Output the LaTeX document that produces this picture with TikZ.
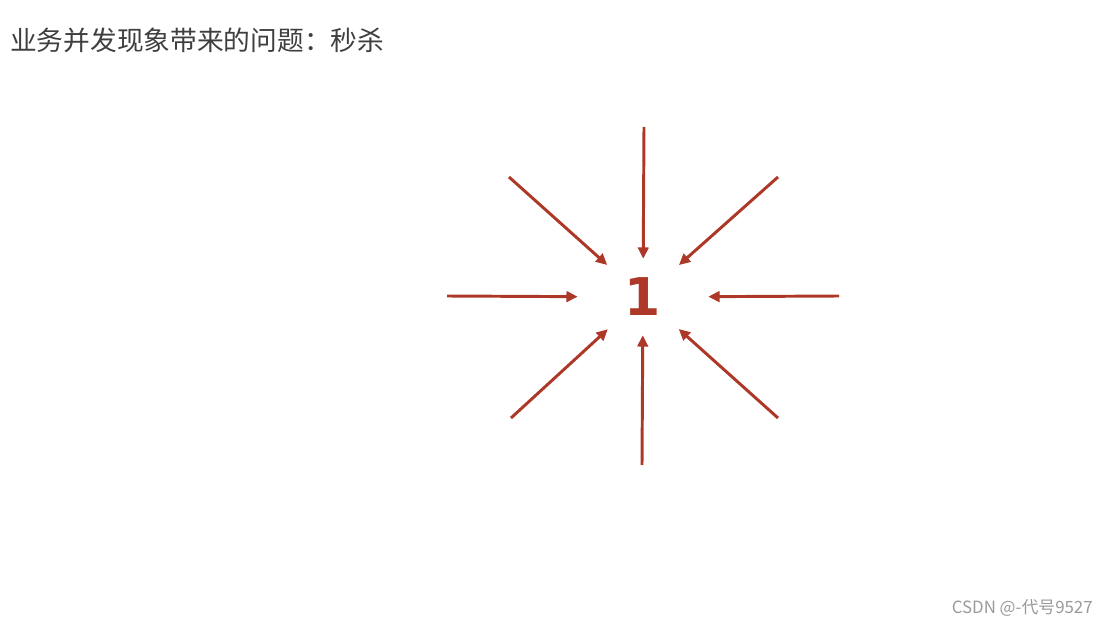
\documentclass[tikz,border=0pt]{standalone}
\usepackage{fontspec}
\usepackage{xcolor}
\usetikzlibrary{shapes.geometric,arrows.meta}
\newfontfamily\cjk{Noto Sans CJK SC}
\newfontfamily\numfont{DejaVu Sans}
\definecolor{brick}{HTML}{AD3828}
\definecolor{titlegray}{HTML}{3F3F3F}
\definecolor{markgray}{HTML}{9A9A9A}
\tikzstyle{hub} = [ellipse, minimum width=3.25cm, minimum height=1.9cm, inner sep=0pt, text=brick, font=\numfont\bfseries\fontsize{37}{40}\selectfont]
\tikzstyle{arrow} = [line width=2.1pt, draw=brick, -{Triangle[length=8pt,width=7.5pt]}]
\tikzstyle{title} = [anchor=west, inner sep=0pt, text=titlegray, font=\cjk\fontsize{19}{22}\selectfont]
\tikzstyle{wmark} = [anchor=east, inner sep=0pt, text=markgray, font=\cjk\fontsize{12}{14}\selectfont]

\begin{document}
\begin{tikzpicture}
        \useasboundingbox (0,0) rectangle (27.725,-15.65);

        \draw (0.25,-1.0) node[title] (head) {业务并发现象带来的问题：秒杀};
        \draw (16.075,-7.425) node[hub] (one) {1};
        \draw (27.325,-15.2) node[wmark] (csdn) {CSDN @-代号9527};

        \coordinate (n) at (16.1,-3.175);
        \coordinate (s) at (16.05,-11.625);
        \coordinate (w) at (11.175,-7.4);
        \coordinate (e) at (20.975,-7.4);
        \coordinate (nw) at (12.725,-4.425);
        \coordinate (ne) at (19.45,-4.425);
        \coordinate (sw) at (12.775,-10.45);
        \coordinate (se) at (19.45,-10.45);

        % Arrows
        \draw[arrow] (n) -- (one);
        \draw[arrow] (s) -- (one);
        \draw[arrow] (w) -- (one);
        \draw[arrow] (e) -- (one);
        \draw[arrow] (nw) -- (one);
        \draw[arrow] (ne) -- (one);
        \draw[arrow] (sw) -- (one);
        \draw[arrow] (se) -- (one);
    \end{tikzpicture}
\end{document}
